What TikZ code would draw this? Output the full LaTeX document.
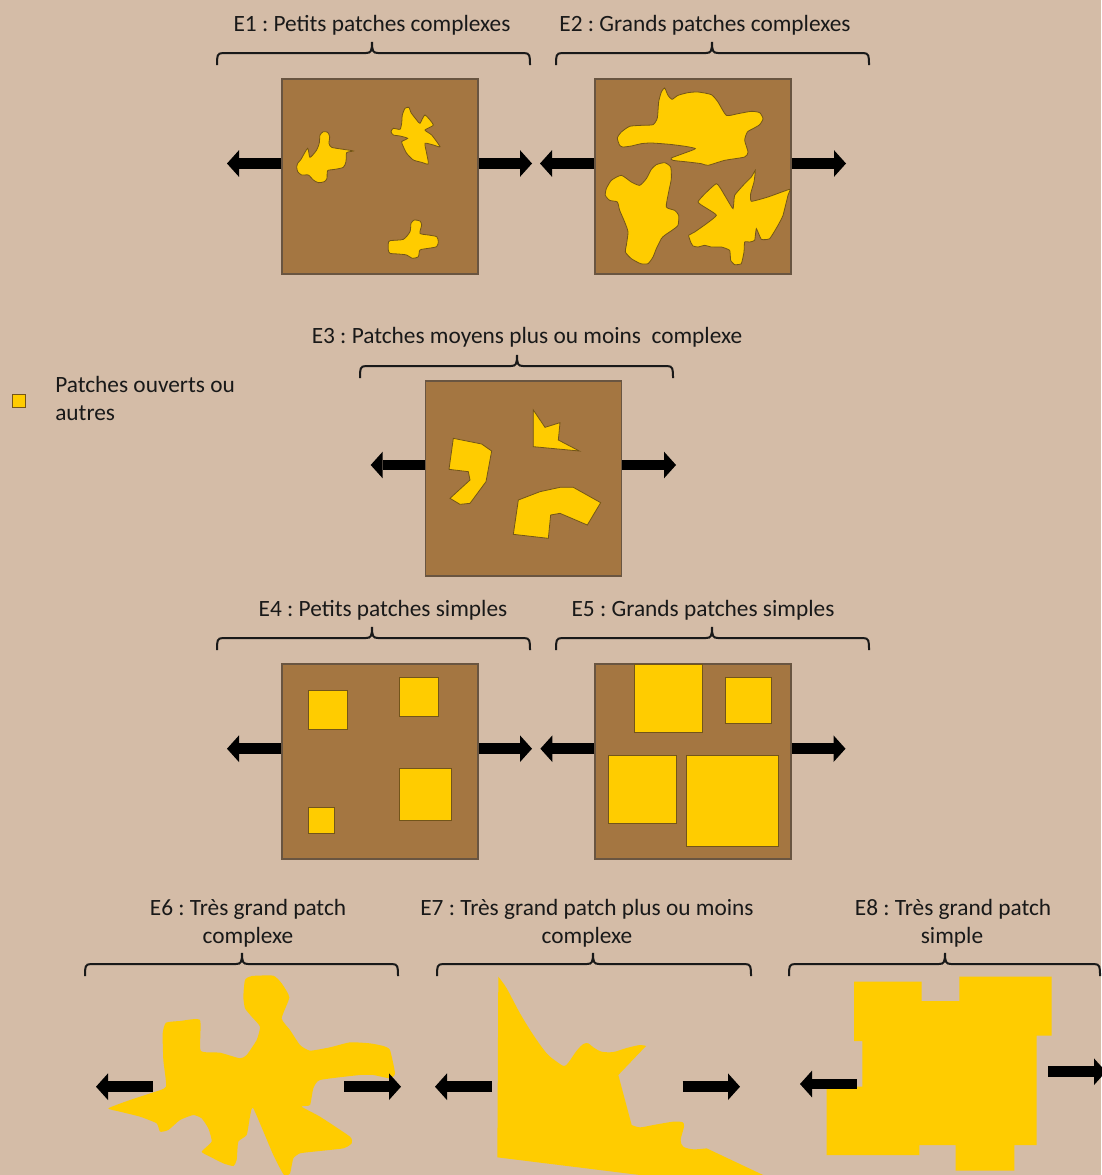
\documentclass[tikz,border=0pt]{standalone}
\usepackage{fontspec}
\setmainfont{Carlito}
\usetikzlibrary{arrows.meta}
\definecolor{bg}{RGB}{212,188,167}
\definecolor{field}{RGB}{164,118,65}
\definecolor{fieldline}{RGB}{105,85,65}
\definecolor{patch}{RGB}{255,204,0}
\definecolor{patchline}{RGB}{115,85,25}
\definecolor{ink}{RGB}{25,25,25}
\frenchspacing
\newcommand{\pbrace}[4]{%
 \draw[brc] (#1,#4+12) .. controls (#1,#4+3) and (#1,#4) .. (#1+6,#4) -- (#2-6,#4) .. controls (#2-1,#4) and (#2,#4-2) .. (#2,#4-11) .. controls (#2,#4-2) and (#2+1,#4) .. (#2+6,#4) -- (#3-6,#4) .. controls (#3,#4) and (#3,#4+3) .. (#3,#4+12);}
\begin{document}
\begin{tikzpicture}[x=0.75pt,y=-0.75pt,
  font=\fontsize{17.5}{21}\selectfont,
  title/.style={anchor=base, inner sep=0pt, text=ink},
  legtext/.style={anchor=base west, inner sep=0pt, text=ink},
  fieldbox/.style={draw=fieldline, fill=field, line width=0.8pt, minimum width=147pt, minimum height=146.25pt, inner sep=0pt},
  blob/.style={fill=patch, draw=patchline, line width=0.6pt},
  sqpatch/.style={fill=patch, draw=patchline, line width=0.7pt},
  bigpatch/.style={fill=patch},
  brc/.style={draw=ink, line width=1.5pt},
  bigarrow/.style={draw=black, line width=7.9pt, -{Triangle[length=9pt,width=20pt,line width=0pt]}},
]
\fill[bg] (0,0) rectangle (1101,1175);
\useasboundingbox (0,0) rectangle (1101,1175);

% ---------- titles ----------
\node[title] (t1) at (372,31) {E1 : Petits patches complexes};
\node[title] (t2) at (705,31) {E2 : Grands patches complexes};
\node[title] (t3) at (527,343) {E3 : Patches moyens plus ou moins \ complexe};
\node[title] (t4) at (383,616) {E4 : Petits patches simples};
\node[title] (t5) at (703,616) {E5 : Grands patches simples};
\node[title] (t6a) at (248,915) {E6 : Très grand patch};
\node[title] (t6b) at (248,943) {complexe};
\node[title] (t7a) at (587,915) {E7 : Très grand patch plus ou moins};
\node[title] (t7b) at (587,943) {complexe};
\node[title] (t8a) at (953,915) {E8 : Très grand patch};
\node[title] (t8b) at (952,943) {simple};

% ---------- braces ----------
\pbrace{217}{372}{530}{53}
\pbrace{556}{712}{869}{53}
\pbrace{360}{517}{673}{366}
\pbrace{217}{372}{530}{638}
\pbrace{556}{712}{869}{638}
\pbrace{85}{242}{398}{964}
\pbrace{437}{593}{751}{964}
\pbrace{789}{945}{1100}{964}

% ---------- legend ----------
\node[draw=patchline, fill=patch, line width=0.7pt, minimum size=9.75pt, inner sep=0pt] (leg) at (18.5,400.5) {};
\node[legtext] (leg1) at (55,392) {Patches ouverts ou};
\node[legtext] (leg2) at (55,420) {autres};

% ---------- field boxes ----------
\node[fieldbox] (b1) at (380,176.5) {};
\node[fieldbox] (b2) at (693,176.5) {};
\node[fieldbox] (b3) at (523.5,478.5) {};
\node[fieldbox] (b4) at (380,761.5) {};
\node[fieldbox] (b5) at (693,761.5) {};

% ---------- E1 patches ----------
\begin{scope}[shift={(285,100)}, scale=1/3]
\draw[blob] plot[smooth cycle, tension=0.4] coordinates {(38,190) (48,178) (68,145) (75,172) (95,150) (103,128) (105,105) (115,95) (128,97) (134,110) (132,130) (140,142) (175,148) (205,153) (185,158) (183,185) (175,202) (150,208) (128,212) (126,235) (118,245) (100,248) (85,240) (70,225) (50,225) (38,215) (35,200)};
\draw[blob] plot[smooth cycle, tension=0.35] coordinates {(318,95) (325,85) (345,88) (350,70) (352,45) (360,25) (372,22) (378,38) (395,60) (405,70) (420,45) (445,75) (420,90) (440,105) (465,140) (445,135) (420,130) (425,160) (430,192) (410,187) (385,180) (365,160) (355,140) (350,125) (368,115) (345,108) (325,105)};
\draw[blob] plot[smooth cycle, tension=0.4] coordinates {(310,430) (315,422) (355,418) (375,395) (378,370) (388,360) (405,363) (410,375) (405,400) (430,405) (455,410) (460,425) (455,440) (430,445) (405,450) (400,470) (382,475) (365,465) (340,462) (315,460) (310,450)};
\end{scope}

% ---------- E2 patches ----------
\begin{scope}[shift={(598,82)}, scale=1/3]
\draw[blob] plot[smooth cycle, tension=0.35] coordinates {(58,168) (70,150) (95,133) (130,130) (165,128) (178,108) (182,60) (190,30) (200,18) (210,40) (222,52) (240,40) (270,32) (300,30) (340,38) (360,60) (385,100) (420,95) (460,88) (485,92) (495,110) (485,128) (465,140) (448,150) (440,175) (450,210) (440,225) (380,235) (330,250) (310,245) (270,240) (225,235) (220,228) (260,213) (292,200) (262,193) (215,187) (160,183) (130,185) (100,192) (75,195) (65,190)};
\draw[blob] plot[smooth cycle, tension=0.35] coordinates {(25,320) (40,295) (70,280) (100,300) (125,310) (145,290) (160,262) (175,248) (200,242) (218,255) (220,290) (212,330) (205,375) (230,385) (242,400) (240,430) (222,445) (200,460) (190,470) (175,500) (165,525) (150,545) (128,545) (100,530) (82,510) (85,490) (90,450) (80,420) (65,385) (58,360) (35,355) (22,340)};
\draw[blob] plot[smooth cycle, tension=0.25] coordinates {(272,460) (290,450) (355,400) (300,360) (355,305) (380,340) (405,380) (410,340) (440,305) (460,285) (472,265) (468,300) (458,335) (460,358) (510,345) (575,322) (570,340) (555,400) (540,430) (515,470) (490,472) (475,440) (470,475) (455,480) (440,480) (438,510) (430,545) (410,548) (398,535) (395,505) (370,495) (340,495) (320,490) (300,495) (285,492) (278,480)};
\end{scope}

% ---------- E3 patches ----------
\begin{scope}[shift={(360,370)}, scale=1/3]
\draw[blob] (280,205) -- (365,222) -- (395,243) -- (378,335) -- (330,400) -- (300,403) -- (270,385) -- (330,330) -- (325,305) -- (267,298) -- cycle;
\draw[blob] (520,120) -- (555,172) -- (600,158) -- (595,210) -- (658,243) -- (520,230) -- cycle;
\draw[blob] (475,390) -- (540,365) -- (600,352) -- (640,352) -- (722,398) -- (682,465) -- (600,430) -- (572,435) -- (565,505) -- (460,493) -- cycle;
\end{scope}

% ---------- E4 patches ----------
\draw[sqpatch] (308.6,690.7) rectangle (347.3,729.3);
\draw[sqpatch] (399.6,677.7) rectangle (438.8,716.3);
\draw[sqpatch] (399.6,768.7) rectangle (451.8,820.3);
\draw[sqpatch] (308.6,807.3) rectangle (334.7,833.3);

% ---------- E5 patches ----------
\draw[sqpatch] (634.3,664.3) rectangle (702.9,732.3);
\draw[sqpatch] (725.3,677.7) rectangle (771.4,723.3);
\draw[sqpatch] (608.6,755.7) rectangle (676.7,823.3);
\draw[sqpatch] (686.5,755.7) rectangle (778,846.3);

% ---------- E6 big patch ----------
\begin{scope}[shift={(80,960)}, scale=1/3]
\fill[bigpatch] plot[smooth cycle, tension=0.3] coordinates {(495,60) (515,48) (580,47) (605,70) (628,112) (605,175) (630,210) (660,255) (690,272) (750,262) (810,247) (870,250) (910,258) (930,270) (945,340) (930,355) (880,345) (840,345) (720,360) (700,385) (690,435) (665,440) (720,470) (810,530) (815,550) (790,565) (700,575) (660,580) (640,595) (630,640) (612,645) (580,585) (520,445) (510,470) (500,525) (475,545) (470,600) (460,618) (430,610) (390,590) (365,575) (395,545) (385,505) (365,475) (340,465) (300,480) (265,510) (240,515) (230,490) (180,470) (120,455) (85,445) (150,420) (220,397) (258,380) (250,300) (248,220) (258,188) (300,183) (360,180) (362,272) (420,278) (480,295) (500,285) (530,240) (540,200) (515,170) (495,145) (490,110)};
\end{scope}

% ---------- E7 big patch ----------
\begin{scope}[shift={(420,960)}, scale=1/3]
\fill[bigpatch] (232,592) -- (235,50) -- plot[smooth, tension=0.5] coordinates {(235,50) (260,85) (300,160) (340,225) (380,280) (410,305) (432,318) (445,308) (470,272) (490,252) (505,250) (520,262) (545,275) (580,276) (620,264) (660,255) (678,258)} -- (595,345) -- (635,495) -- plot[smooth, tension=0.5] coordinates {(635,495) (660,502) (700,495) (760,485) (788,487) (792,500) (782,540) (790,560) (820,568) (860,565)} -- (1040,650) -- (700,650) -- cycle;
\end{scope}

% ---------- E8 big patch ----------
\begin{scope}[shift={(780,960)}, scale=1/3]
\fill[bigpatch] (222,65) -- (425,65) -- (425,123) -- (538,123) -- (538,50) -- (815,50) -- (815,227) -- (770,227) -- (770,555) -- (703,555) -- (703,632) -- (527,632) -- (527,555) -- (418,555) -- (418,585) -- (140,585) -- (140,380) -- (247,380) -- (247,243) -- (222,243) -- cycle;
\end{scope}

% ---------- arrows ----------
\coordinate (a1l) at (227,163.5);   \coordinate (a1r) at (532,163.5);
\coordinate (a2l) at (540,163.5);   \coordinate (a2r) at (846,163.5);
\coordinate (a3l) at (370.7,465); \coordinate (a3r) at (676,465);
\coordinate (a4l) at (227,748.7); \coordinate (a4r) at (532,748.7);
\coordinate (a5l) at (540.4,748.7); \coordinate (a5r) at (845.5,748.7);
\draw[bigarrow] (b1.west |- a1l) -- (a1l);
\draw[bigarrow] (b1.east |- a1r) -- (a1r);
\draw[bigarrow] (b2.west |- a2l) -- (a2l);
\draw[bigarrow] (b2.east |- a2r) -- (a2r);
\draw[bigarrow] (b3.west |- a3l) -- (a3l);
\draw[bigarrow] (b3.east |- a3r) -- (a3r);
\draw[bigarrow] (b4.west |- a4l) -- (a4l);
\draw[bigarrow] (b4.east |- a4r) -- (a4r);
\draw[bigarrow] (b5.west |- a5l) -- (a5l);
\draw[bigarrow] (b5.east |- a5r) -- (a5r);

\coordinate (a6ls) at (152.7,1086.7); \coordinate (a6l) at (96,1086.7);
\coordinate (a6rs) at (344,1086.7);   \coordinate (a6r) at (401,1086.7);
\coordinate (a7ls) at (491.7,1086.7); \coordinate (a7l) at (435,1086.7);
\coordinate (a7rs) at (682.7,1086.7); \coordinate (a7r) at (740,1086.7);
\coordinate (a8ls) at (856.7,1084);   \coordinate (a8l) at (800,1084);
\coordinate (a8rs) at (1048.3,1071.7); \coordinate (a8r) at (1106,1071.7);
\draw[bigarrow] (a6ls) -- (a6l);
\draw[bigarrow] (a6rs) -- (a6r);
\draw[bigarrow] (a7ls) -- (a7l);
\draw[bigarrow] (a7rs) -- (a7r);
\draw[bigarrow] (a8ls) -- (a8l);
\draw[bigarrow] (a8rs) -- (a8r);
\end{tikzpicture}
\end{document}
